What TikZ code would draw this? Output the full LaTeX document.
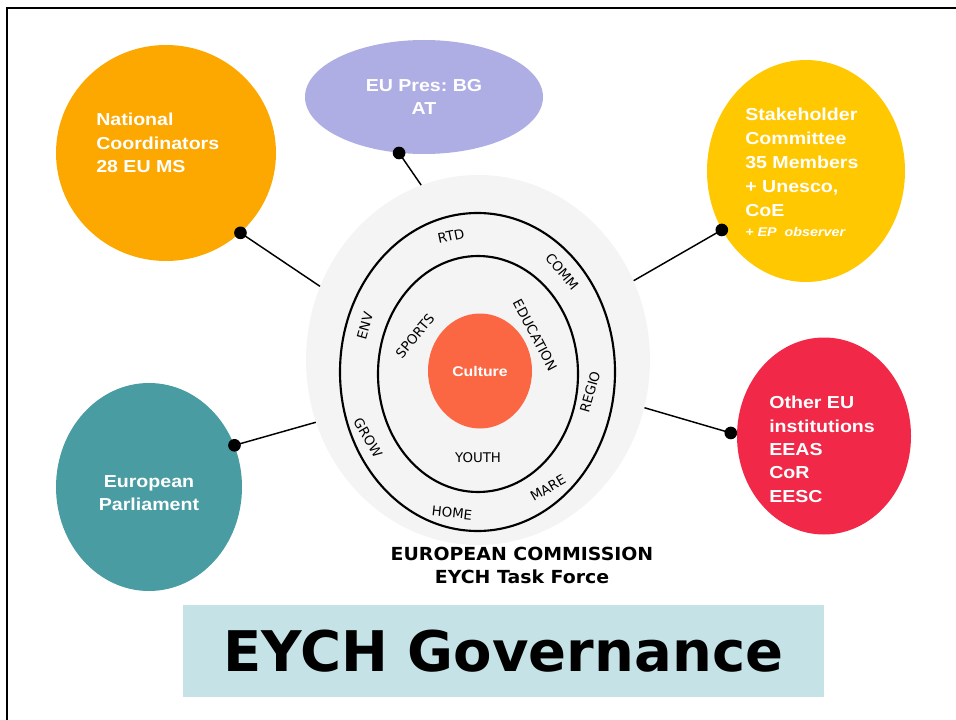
\documentclass[tikz,border=0pt]{standalone}
\usepackage{fontspec}
\setmainfont{Liberation Sans}[FakeStretch=1.13]
\newfontfamily\verdfont{DejaVu Sans}
\newfontfamily\verdwidefont{DejaVu Sans}[FakeStretch=1.05]
\usetikzlibrary{shapes.geometric}
\frenchspacing

\definecolor{natcoOrange}{RGB}{252,168,0}
\definecolor{presLilac}{RGB}{174,174,228}
\definecolor{stakeYellow}{RGB}{255,200,0}
\definecolor{otherRed}{RGB}{241,40,72}
\definecolor{parlTeal}{RGB}{74,156,163}
\definecolor{cultureCoral}{RGB}{252,103,67}
\definecolor{ecGray}{RGB}{244,244,244}
\definecolor{titleBlue}{RGB}{197,226,230}

\begin{document}
\begin{tikzpicture}
[x=0.75pt,y=-0.75pt,%
  lineDecorate/.style={-,line width=1.1pt},%
  dotDecorate/.style={shape=circle,fill=black,inner sep=0pt,minimum size=9.5pt},%
  blobDecorate/.style={shape=ellipse,inner sep=0pt,draw=none},%
  ringDecorate/.style={shape=ellipse,inner sep=0pt,draw=black,line width=1.6pt},%
  bodyText/.style={inner sep=0pt,text=white,font=\bfseries\fontsize{13}{17.6}\selectfont},%
  ringText/.style={inner sep=0pt,font=\verdfont\fontsize{10}{12}\selectfont}]
\useasboundingbox (0,0) rectangle (956,720);
%% frame
\draw[line width=2pt] (7,720) -- (7,8) -- (956,8);
%% the commission in the middle
\node[blobDecorate,fill=ecGray,minimum width=258pt,minimum height=277.5pt] (ec) at (478,360) {};
\node[ringDecorate,minimum width=206.25pt,minimum height=238.5pt] (outerring) at (477.5,372) {};
\node[ringDecorate,minimum width=150pt,minimum height=177pt] (innerring) at (478,374) {};
\node[blobDecorate,fill=cultureCoral,minimum width=78pt,minimum height=86.25pt,
  text=white,font=\bfseries\fontsize{10.5}{12}\selectfont] (culture) at (480,371) {Culture};
%% labels on the rings
\foreach \dg/\x/\y/\rot in {
  RTD/451/236/12, COMM/562/272/-50, ENV/365/326/74, GROW/368/438/-60,
  HOME/452/513/-6, MARE/548/488/30, REGIO/590/392/74,
  SPORTS/415/336/50, EDUCATION/535/335/-62, YOUTH/478/458/0}
{
  \node[ringText,rotate=\rot] (\dg) at (\x,\y) {\dg};
}
\node[font=\verdwidefont\bfseries\fontsize{13.5}{17.2}\selectfont,align=center,inner sep=0pt] (ectext) at (522,565)
  {EUROPEAN COMMISSION\\EYCH Task Force};
%% the bodies round it
\node[blobDecorate,fill=natcoOrange,minimum width=165pt,minimum height=162pt] (natco) at (166,153) {};
\node[blobDecorate,fill=presLilac,minimum width=178.5pt,minimum height=85.5pt,
  text=white,font=\bfseries\fontsize{13}{17.6}\selectfont,align=center] (pres) at (424,97) {EU Pres: BG\\AT};
\node[blobDecorate,fill=stakeYellow,minimum width=148.5pt,minimum height=166.5pt] (stake) at (806,171) {};
\node[blobDecorate,fill=otherRed,minimum width=130.5pt,minimum height=147.75pt] (other) at (824,436) {};
\node[blobDecorate,fill=parlTeal,minimum width=139.5pt,minimum height=156pt] (parl) at (149,487) {};
%% their texts
\node[bodyText,align=left,anchor=north west] (natcotext) at (96,113) {National\\Coordinators\\28 EU MS};
\node[bodyText,align=left,anchor=north west,font=\bfseries\fontsize{13}{18}\selectfont] (staketext) at (745,108)
  {Stakeholder\\Committee\\35 Members\\+ Unesco,\\CoE\\[-3pt]{\itshape\fontsize{9.5}{11}\selectfont + EP\ \ observer}};
\node[bodyText,align=left,anchor=north west,font=\bfseries\fontsize{13}{17.5}\selectfont] (othertext) at (769,396)
  {Other EU\\institutions\\EEAS\\CoR\\EESC};
\node[bodyText,align=center] (parltext) at (149,493) {European\\Parliament};
%% dots and connectors
\foreach \nodename/\out/\in/\dx in {
  natco/-47.5/155/0, pres/-114/108.5/0, stake/-145.7/27.8/0,
  other/178.8/-16.8/-4.5, parl/26.8/201.3/0}
{
  \node[dotDecorate] (dot-\nodename) at ([xshift=\dx pt]\nodename.\out) {};
  \path (dot-\nodename.center) edge[lineDecorate] (ec.\in);
}
%% title
\node[fill=titleBlue,minimum width=480.75pt,minimum height=69pt,inner sep=0pt,
  font=\verdfont\bfseries\fontsize{42}{48}\selectfont] (title) at (503.5,651) {EYCH Governance};
\end{tikzpicture}
\end{document}
